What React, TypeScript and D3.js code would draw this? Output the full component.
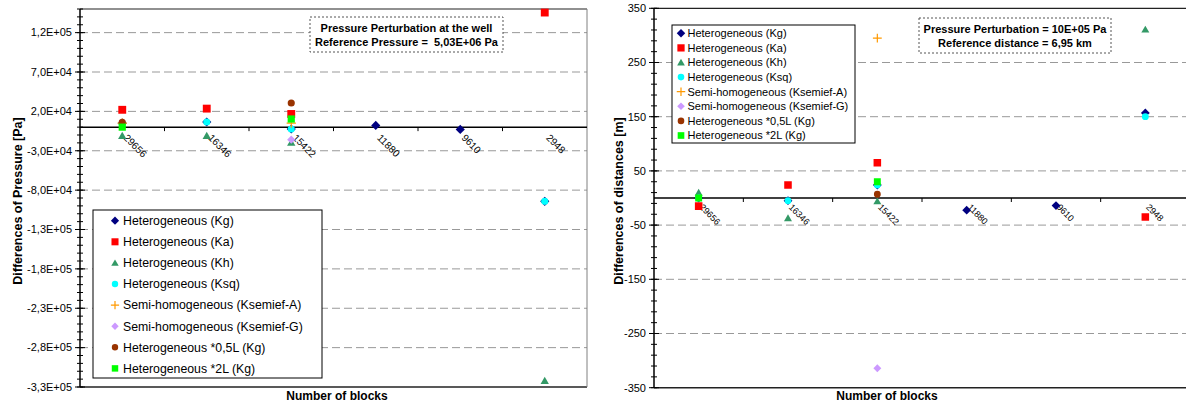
import React from "react";
import * as d3 from "d3";

const categories = ["29656", "16346", "15422", "11880", "9610", "2948"];
const seriesNames = [
  "Heterogeneous (Kg)",
  "Heterogeneous (Ka)",
  "Heterogeneous (Kh)",
  "Heterogeneous (Ksq)",
  "Semi-homogeneous (Ksemief-A)",
  "Semi-homogeneous (Ksemief-G)",
  "Heterogeneous *0,5L (Kg)",
  "Heterogeneous *2L (Kg)",
];

// Differences of pressure [Pa]
const pressKg = [5000, 6500, -2400, 2200, -2900, -94200];
const pressKa = [22000, 23500, 16700, null, null, 145500];
const pressKh = [-11000, -11000, -19500, null, null, -322000];
const pressKsq = [5000, 6500, -2400, null, null, -94200];
const pressSemiA = [5000, null, 5200, null, null, null];
const pressSemiG = [null, null, -16000, null, null, null];
const pressHalfL = [6000, null, 30700, null, null, null];
const pressDoubleL = [0, null, 10300, null, null, null];

// Differences of distances [m]
const distKg = [0, -5, 24, -22.5, -14, 157];
const distKa = [-15, 24, 65, null, null, -35];
const distKh = [10, -37, -6, null, null, 311];
const distKsq = [0, -5, 24, null, null, 150];
const distSemiA = [null, null, 295, null, null, null];
const distSemiG = [null, null, -314, null, null, null];
const distHalfL = [null, null, 7, null, null, null];
const distDoubleL = [0, null, 30, null, null, null];

const pressTickValues = [-330000, -280000, -230000, -180000, -130000, -80000, -30000, 20000, 70000, 120000];
const pressTickLabels = ["-3,3E+05", "-2,8E+05", "-2,3E+05", "-1,8E+05", "-1,3E+05", "-8,0E+04", "-3,0E+04", "2,0E+04", "7,0E+04", "1,2E+05"];
const distTickValues = [-350, -250, -150, -50, 50, 150, 250, 350];
const distTickLabels = ["-350", "-250", "-150", "-50", "50", "150", "250", "350"];

type Style = { shape: string; fill: string; size: number };
const seriesStyles: Style[] = [
  { shape: "diamond", fill: "#000080", size: 42 },
  { shape: "square", fill: "#FF0000", size: 62 },
  { shape: "triangle", fill: "#339966", size: 30 },
  { shape: "circle", fill: "#00FFFF", size: 40 },
  { shape: "plus", fill: "#FF9900", size: 30 },
  { shape: "diamond", fill: "#CC99FF", size: 34 },
  { shape: "circle", fill: "#993300", size: 40 },
  { shape: "square", fill: "#00FF00", size: 52 },
];

const FONT = "'Liberation Sans', Arial, sans-serif";

function Marker({ style, x, y, scale }: { style: Style; x: number; y: number; scale: number }) {
  const s = style.size * scale;
  if (style.shape === "plus") {
    const p = d3.symbol(d3.symbolPlus, s)() as string;
    return <path d={p} transform={`translate(${x},${y})`} fill="none" stroke={style.fill} strokeWidth={1.2} />;
  }
  let type: d3.SymbolType = d3.symbolSquare;
  let rot = 0;
  if (style.shape === "diamond") { type = d3.symbolSquare; rot = 45; }
  if (style.shape === "circle") type = d3.symbolCircle;
  if (style.shape === "triangle") type = d3.symbolTriangle;
  const p = d3.symbol(type, s)() as string;
  const dy = style.shape === "triangle" ? 0.8 : 0;
  return <path d={p} transform={`translate(${x},${y + dy}) rotate(${rot})`} fill={style.fill} />;
}

type Cfg = {
  left: number; right: number; top: number; bottom: number;
  domain: [number, number];
  tickValues: number[]; tickLabels: string[]; gridValues: number[]; minorStep: number;
  series: (number | null)[][];
  yTitle: string; yTitleX: number;
  xTitleX: number;
  note: string[]; noteBox: [number, number, number, number];
  legend: [number, number, number, number]; legendY0: number; legendStep: number; legendMarkerX: number; legendTextX: number; legendFont: number; legendMarkerScale: number;
  catFont: number; catDx: number; catDy: number; markerScale: number;
  rightBorder: boolean;
};

function Chart({ c }: { c: Cfg }) {
  const y = d3.scaleLinear().domain(c.domain).range([c.bottom, c.top]);
  const x = d3.scaleBand().domain(categories).range([c.left, c.right]).padding(0);
  const bw = x.bandwidth();
  const cx = (cat: string) => (x(cat) as number) + bw / 2;
  const minor = d3.range(c.domain[0], c.domain[1] + 1e-9, c.minorStep);
  const y0 = y(0);
  const clipId = `clip-${c.left}`;
  return (
    <g fontFamily={FONT}>
      <defs>
        <clipPath id={clipId}>
          <rect x={c.left} y={c.top - 6} width={c.right - c.left} height={c.bottom - c.top + 12} />
        </clipPath>
      </defs>
      {/* grid */}
      {c.gridValues.map((v) => (
        <line key={"g" + v} x1={c.left} x2={c.right} y1={y(v)} y2={y(v)} stroke="#999" strokeWidth={1} strokeDasharray="8,4" />
      ))}
      {/* frame */}
      <line x1={c.left} x2={c.right} y1={c.top} y2={c.top} stroke="#222" strokeWidth={1.2} />
      <line x1={c.left} x2={c.right} y1={c.bottom} y2={c.bottom} stroke="#222" strokeWidth={1.5} />
      {c.rightBorder && <line x1={c.right} x2={c.right} y1={c.top} y2={c.bottom} stroke="#808080" strokeWidth={1} />}
      {/* zero axis */}
      <line x1={c.left} x2={c.right} y1={y0} y2={y0} stroke="#000" strokeWidth={1.5} />
      {categories.slice(1).map((cat) => (
        <line key={"xt" + cat} x1={x(cat)} x2={x(cat)} y1={y0} y2={y0 + 4} stroke="#000" strokeWidth={1} />
      ))}
      {/* y axis */}
      <line x1={c.left} x2={c.left} y1={c.top} y2={c.bottom} stroke="#000" strokeWidth={1.5} />
      {minor.map((v) => (
        <line key={"m" + v} x1={c.left - 3} x2={c.left + 3} y1={y(v)} y2={y(v)} stroke="#000" strokeWidth={1} />
      ))}
      {c.tickValues.map((v, i) => (
        <g key={"t" + v}>
          <line x1={c.left - 5} x2={c.left + 5} y1={y(v)} y2={y(v)} stroke="#000" strokeWidth={1} />
          <text x={c.left - 8} y={y(v)} dy="0.35em" textAnchor="end" fontSize={11} fill="#000">{c.tickLabels[i]}</text>
        </g>
      ))}
      {/* category labels */}
      {categories.map((cat) => (
        <text key={"cl" + cat} transform={`translate(${cx(cat) + c.catDx},${y0 + c.catDy}) rotate(45)`} fontSize={c.catFont} fill="#000" dy="0.75em">{cat}</text>
      ))}
      {/* note */}
      <rect x={c.noteBox[0]} y={c.noteBox[1]} width={c.noteBox[2]} height={c.noteBox[3]} fill="#fff" stroke="#555" strokeWidth={1} strokeDasharray="2,2" />
      {c.note.map((t, i) => (
        <text key={"n" + i} x={c.noteBox[0] + c.noteBox[2] / 2} y={c.noteBox[1] + 11 + i * 14.2} dy="0.35em" textAnchor="middle" fontSize={11} fontWeight="bold" fill="#000" style={{ whiteSpace: "pre" }}>{t}</text>
      ))}
      {/* markers */}
      <g clipPath={`url(#${clipId})`}>
        {c.series.map((vals, si) =>
          vals.map((v, i) => (v === null ? null : (
            <Marker key={`s${si}-${i}`} style={seriesStyles[si]} x={cx(categories[i])} y={y(v)} scale={c.markerScale} />
          )))
        )}
      </g>
      {/* legend */}
      <rect x={c.legend[0]} y={c.legend[1]} width={c.legend[2]} height={c.legend[3]} fill="#fff" stroke="#000" strokeWidth={1} />
      {seriesNames.map((n, i) => (
        <g key={"l" + i}>
          <Marker style={seriesStyles[i]} x={c.legendMarkerX} y={c.legendY0 + i * c.legendStep} scale={c.legendMarkerScale} />
          <text x={c.legendTextX} y={c.legendY0 + i * c.legendStep} dy="0.35em" fontSize={c.legendFont} fill="#000">{n}</text>
        </g>
      ))}
      {/* titles */}
      <text transform={`translate(${c.yTitleX},${(c.top + c.bottom) / 2 + 3}) rotate(-90)`} textAnchor="middle" dy="0.35em" fontSize={12.5} fontWeight="bold" fill="#000">{c.yTitle}</text>
      <text x={c.xTitleX} y={396} dy="0.35em" textAnchor="middle" fontSize={12} fontWeight="bold" fill="#000">Number of blocks</text>
    </g>
  );
}

const leftCfg: Cfg = {
  left: 80, right: 587, top: 9, bottom: 387,
  domain: [-330000, 150000],
  tickValues: pressTickValues, tickLabels: pressTickLabels,
  gridValues: pressTickValues.filter((v) => v !== -330000),
  minorStep: 10000,
  series: [pressKg, pressKa, pressKh, pressKsq, pressSemiA, pressSemiG, pressHalfL, pressDoubleL],
  yTitle: "Differences of Pressure [Pa]", yTitleX: 18,
  xTitleX: 337,
  note: ["Pressure Perturbation at the well", "Reference Pressure =  5,03E+06 Pa"],
  noteBox: [310, 17, 193, 35],
  legend: [93, 210, 229, 168], legendY0: 220.7, legendStep: 21.1, legendMarkerX: 115, legendTextX: 123, legendFont: 12.3, legendMarkerScale: 0.8,
  catFont: 10, catDx: 6, catDy: 6, markerScale: 1,
  rightBorder: true,
};

const rightCfg: Cfg = {
  left: 654, right: 1190, top: 8.3, bottom: 387.7,
  domain: [-350, 350],
  tickValues: distTickValues, tickLabels: distTickLabels,
  gridValues: distTickValues.filter((v) => v !== -350 && v !== 350),
  minorStep: 20,
  series: [distKg, distKa, distKh, distKsq, distSemiA, distSemiG, distHalfL, distDoubleL],
  yTitle: "Differences of distances [m]", yTitleX: 619,
  xTitleX: 887,
  note: ["Pressure Perturbation = 10E+05 Pa", "Reference distance = 6,95 km"],
  noteBox: [919, 18, 192, 35],
  legend: [672, 25, 183, 118], legendY0: 33.3, legendStep: 14.6, legendMarkerX: 681, legendTextX: 687.5, legendFont: 11, legendMarkerScale: 0.85,
  catFont: 9, catDx: 5, catDy: 5, markerScale: 0.92,
  rightBorder: false,
};

export default function App() {
  return (
    <svg width={1186} height={405} style={{ position: "absolute", left: 0, top: 0, background: "#fff" }}>
      <rect x={0} y={0} width={1186} height={405} fill="#fff" />
      <Chart c={leftCfg} />
      <Chart c={rightCfg} />
    </svg>
  );
}
